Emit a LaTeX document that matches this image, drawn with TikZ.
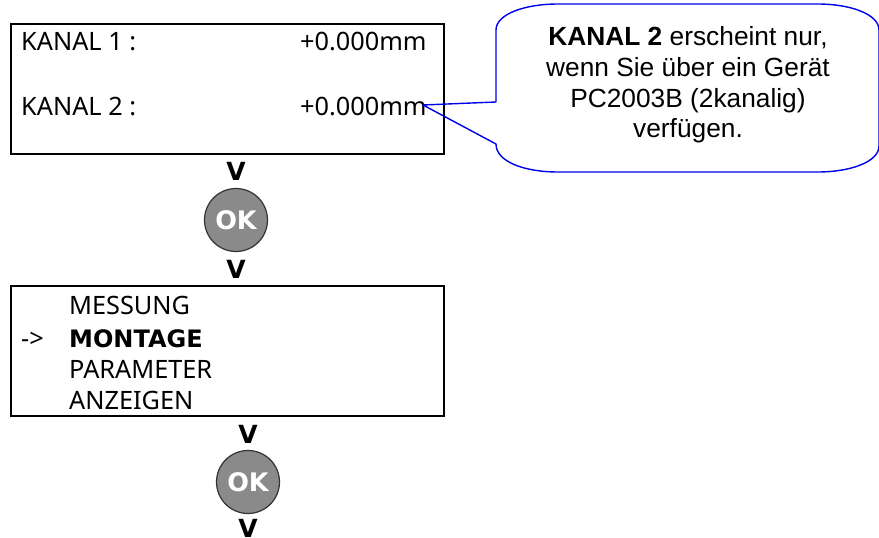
\documentclass[tikz,border=0pt]{standalone}
\usepackage{fontspec}
\usepackage{xcolor}
\setmainfont{Liberation Sans}
\newfontfamily\panelfont{Noto Sans}
\newfontfamily\panelbold{DejaVu Sans Bold}
\definecolor{calloutblue}{RGB}{0,0,235}
\definecolor{okgray}{RGB}{138,138,138}
\definecolor{okedge}{RGB}{50,50,50}
\tikzset{
    panelbox/.style={draw=black,line width=1.6pt,minimum width=433pt,minimum height=130pt,inner sep=0pt},
    paneltext/.style={anchor=base west,inner sep=0pt,font=\panelfont\fontsize{25.3}{28}\selectfont},
    vmark/.style={anchor=base,inner sep=0pt,font=\panelbold\fontsize{25}{30}\selectfont},
    okbutton/.style={circle,draw=okedge,line width=1.2pt,fill=okgray,minimum size=63pt,inner sep=0pt,text=white,font=\panelbold\fontsize{25.5}{28}\selectfont},
    callout/.style={draw=calloutblue,line width=1.4pt,line join=round},
}
\begin{document}
\begin{tikzpicture}[x=1pt,y=-1pt]
    \useasboundingbox (0,0) rectangle (879,538);

    % Channel display
    \node[panelbox] (kanalbox) at (227.5,89) {};
    \node[paneltext] (kanaleins) at (21,50) {KANAL 1 :};
    \node[paneltext] (werteins) at (300,50) {+0.000mm};
    \node[paneltext] (kanalzwei) at (21,115) {KANAL 2 :};
    \node[paneltext] (wertzwei) at (300,115) {+0.000mm};

    % Callout
    \coordinate (calloutTip) at (423,105);
    \draw[callout] (calloutTip) -- (496,102) -- (496,30) .. controls (496,14) and (525,4) .. (558,4)
        -- (818,4) .. controls (850,4) and (879,14) .. (879,30)
        -- (879,146) .. controls (879,162) and (850,172) .. (818,172)
        -- (558,172) .. controls (525,172) and (496,162) .. (496,144) -- cycle;
    \node[align=center,inner sep=0pt,font=\fontsize{26.3}{30.7}\selectfont] (calloutText) at (688,85)
        {\textbf{KANAL 2} erscheint nur,\\wenn Sie über ein Gerät\\PC2003B (2kanalig)\\verfügen.};

    % First OK step
    \node[vmark] (veins) at (236,180) {V};
    \node[okbutton] (okeins) at (236,220) {OK};
    \node[vmark] (vzwei) at (236,278) {V};

    % Menu display
    \node[panelbox] (menubox) at (227.5,351) {};
    \node[paneltext] (messung) at (69,314) {MESSUNG};
    \node[paneltext] (pfeil) at (21,347) {->};
    \node[paneltext,font=\panelbold\fontsize{24}{28}\selectfont] (montage) at (69,347) {MONTAGE};
    \node[paneltext] (parameter) at (69,378) {PARAMETER};
    \node[paneltext] (anzeigen) at (69,409) {ANZEIGEN};

    % Second OK step
    \node[vmark] (vdrei) at (248,443) {V};
    \node[okbutton] (okzwei) at (248,482) {OK};
    \node[vmark] (vvier) at (248,537) {V};
\end{tikzpicture}
\end{document}
